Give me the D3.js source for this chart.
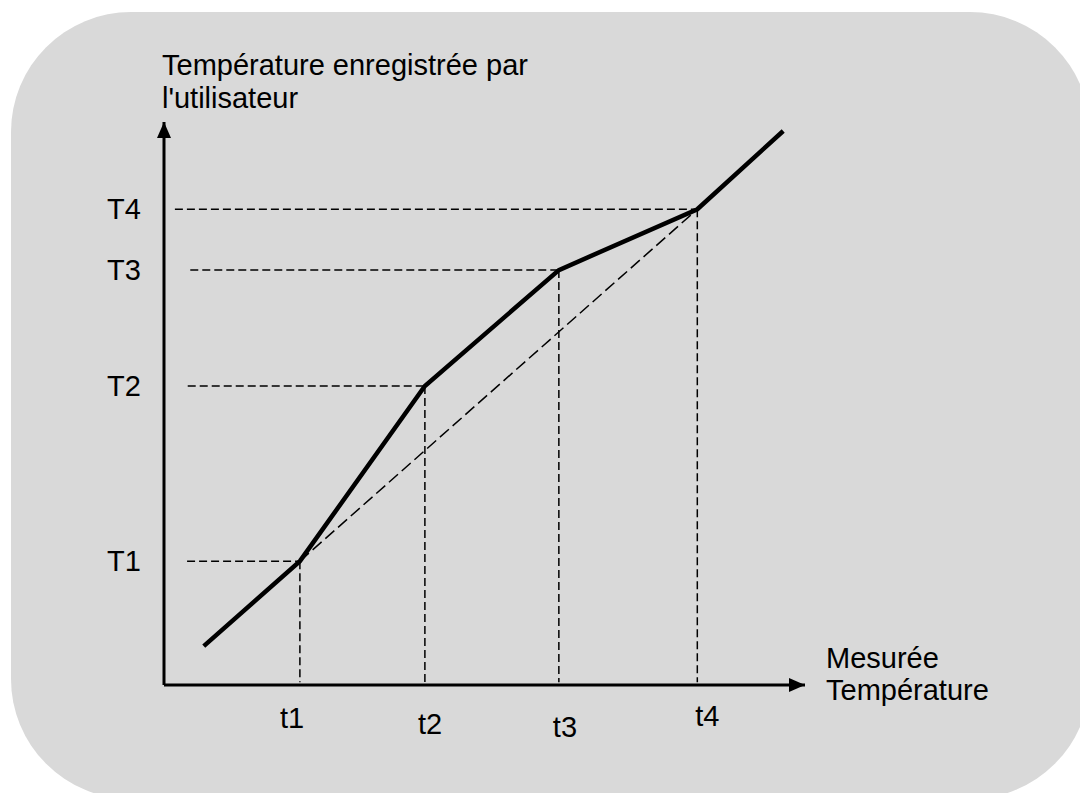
<!DOCTYPE html>
<html>
<head>
<meta charset="utf-8">
<script src="https://cdn.jsdelivr.net/npm/d3@7"></script>
<style>
  html, body { margin: 0; padding: 0; background: #ffffff; }
  svg { display: block; }
  text { font-family: "Liberation Sans", Arial, sans-serif; fill: #000; }
</style>
</head>
<body>
<svg id="chart" width="1080" height="793"></svg>
<script>
// Calibration curve: measured temperature (x) vs. user-recorded temperature (y)
const measured  = [6.2, 21.2, 40.7, 61.6, 83.2, 96.6];
const recorded  = [6.9, 22.0, 53.1, 73.7, 84.5, 98.4];
// Calibration points are the interior kinks of the curve
const pointIdx  = [1, 2, 3, 4];
const xLabels   = ["t1", "t2", "t3", "t4"];
const yLabels   = ["T1", "T2", "T3", "T4"];
const yTitle    = ["Température enregistrée par", "l'utilisateur"];
const xTitle    = ["Mesurée", "Température"];

const svg = d3.select("#chart");

// Rounded grey panel
svg.append("rect")
  .attr("x", 11).attr("y", 12)
  .attr("width", 1079).attr("height", 787)
  .attr("rx", 120).attr("ry", 120)
  .attr("fill", "#d9d9d9");

const x = d3.scaleLinear().domain([0, 100]).range([164, 805]);
const y = d3.scaleLinear().domain([0, 100]).range([685, 122]);

const FONT = 29;

// Arrow marker
const defs = svg.append("defs");
defs.append("marker")
  .attr("id", "arrow")
  .attr("viewBox", "0 0 16 16")
  .attr("refX", 16).attr("refY", 8)
  .attr("markerWidth", 16).attr("markerHeight", 16)
  .attr("markerUnits", "userSpaceOnUse")
  .attr("orient", "auto")
  .append("path")
  .attr("d", "M0,1 L16,8 L0,15 Z")
  .attr("fill", "#000");

// Axes
svg.append("path")
  .attr("d", d3.line()([[x(0), y(0)], [x(100), y(0)]]))
  .attr("stroke", "#000").attr("stroke-width", 3)
  .attr("marker-end", "url(#arrow)");
svg.append("path")
  .attr("d", d3.line()([[x(0), y(0)], [x(0), y(100)]]))
  .attr("stroke", "#000").attr("stroke-width", 3)
  .attr("marker-end", "url(#arrow)");

const pts = pointIdx.map(i => ({ mx: measured[i], ry: recorded[i] }));
const dash = "8,4";

// Horizontal guides from the y axis to each point
const guideStart = [3.6, 3.7, 4.1, 1.7];
svg.append("g").selectAll("line").data(pts).join("line")
  .attr("x1", (d, i) => x(guideStart[i]))
  .attr("x2", d => x(d.mx))
  .attr("y1", d => y(d.ry)).attr("y2", d => y(d.ry))
  .attr("stroke", "#000").attr("stroke-width", 1.5)
  .attr("stroke-dasharray", dash);

// Vertical guides from each point down to the x axis
svg.append("g").selectAll("line").data(pts).join("line")
  .attr("x1", d => x(d.mx)).attr("x2", d => x(d.mx))
  .attr("y1", d => y(d.ry)).attr("y2", y(0.5))
  .attr("stroke", "#000").attr("stroke-width", 1.5)
  .attr("stroke-dasharray", dash);

// Ideal (uncorrected) straight line between first and last calibration point
svg.append("line")
  .attr("x1", x(pts[0].mx)).attr("y1", y(pts[0].ry))
  .attr("x2", x(pts[3].mx)).attr("y2", y(pts[3].ry))
  .attr("stroke", "#000").attr("stroke-width", 1.5)
  .attr("stroke-dasharray", "12,5");

// Piecewise calibration curve
const line = d3.line().x(d => x(d[0])).y(d => y(d[1]));
svg.append("path")
  .attr("d", line(measured.map((m, i) => [m, recorded[i]])))
  .attr("fill", "none")
  .attr("stroke", "#000").attr("stroke-width", 4.5)
  .attr("stroke-linejoin", "miter");

// Y labels
svg.append("g").selectAll("text").data(pts).join("text")
  .attr("x", 107)
  .attr("y", d => y(d.ry) + 10)
  .attr("font-size", FONT)
  .text((d, i) => yLabels[i]);

// X labels (slightly staggered placement)
const xLabelDx = [-20, -7, -6, -2];
const xLabelDy = [43, 49, 52, 41];
svg.append("g").selectAll("text").data(pts).join("text")
  .attr("x", (d, i) => x(d.mx) + xLabelDx[i])
  .attr("y", (d, i) => y(0) + xLabelDy[i])
  .attr("font-size", FONT)
  .text((d, i) => xLabels[i]);

// Axis titles
svg.append("g").selectAll("text").data(yTitle).join("text")
  .attr("x", 162)
  .attr("y", (d, i) => 75 + i * 33)
  .attr("font-size", FONT)
  .text(d => d);

svg.append("g").selectAll("text").data(xTitle).join("text")
  .attr("x", 826)
  .attr("y", (d, i) => 668 + i * 32)
  .attr("font-size", FONT)
  .text(d => d);
</script>
</body>
</html>
